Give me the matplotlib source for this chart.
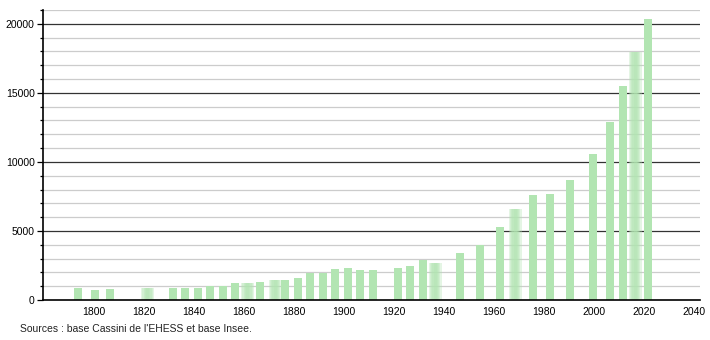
import numpy as np
import matplotlib
matplotlib.use("Agg")
import matplotlib.pyplot as plt
from matplotlib.ticker import MultipleLocator

# census years and population
years = [1793, 1800, 1806, 1821, 1831, 1836, 1841, 1846, 1851, 1856, 1861,
         1866, 1872, 1876, 1881, 1886, 1891, 1896, 1901, 1906, 1911, 1921,
         1926, 1931, 1936, 1946, 1954, 1962, 1968, 1975, 1982, 1990, 1999,
         2006, 2011, 2016, 2021]
population = [890, 720, 820, 870, 890, 890, 890, 1010, 1010, 1230, 1230,
              1300, 1450, 1450, 1590, 1960, 1960, 2250, 2320, 2170, 2170, 2320,
              2460, 2920, 2680, 3400, 3960, 5290, 6590, 7610, 7680, 8700, 10580,
              12920, 15510, 17990, 20360]
# bars that look smeared in the original rendering
blurred = [1821, 1861, 1872, 1936, 1968, 2016]

source_text = "Sources : base Cassini de l'EHESS et base Insee."

plt.rcParams["font.family"] = ["Liberation Sans", "DejaVu Sans"]
bar_color = "#b2e5b2"

fig = plt.figure(figsize=(7.1, 3.4), dpi=100)
ax = fig.add_axes([43 / 710, 40 / 340, 657 / 710, 290 / 340])

# grid: light every 1000, dark every 5000
for v in range(1000, 21001, 1000):
    if v % 5000 == 0:
        ax.axhline(v, color="#333333", lw=0.9, zorder=1)
    else:
        ax.axhline(v, color="#cccccc", lw=0.9, zorder=1)

yrs = np.array(years, dtype=float) + 0.4
pop = np.array(population, dtype=float)
sharp = np.array([y not in blurred for y in years])

ax.bar(yrs[sharp], pop[sharp], width=3.2, color=bar_color, zorder=2, lw=0)
for k in range(5):
    ax.bar(yrs[~sharp], pop[~sharp], width=1.2 + k * 1.0, color=bar_color,
           alpha=0.35, zorder=2, lw=0)

ax.set_xlim(1779.6, 2042.4)
ax.set_ylim(0, 21000)
ax.set_xticks(range(1800, 2041, 20))
ax.yaxis.set_major_locator(MultipleLocator(5000))
ax.yaxis.set_minor_locator(MultipleLocator(1000))
ax.tick_params(axis="x", length=0, labelsize=7.5, pad=5)
ax.tick_params(axis="y", which="major", length=4, width=0.9, labelsize=7.5, pad=2)
ax.tick_params(axis="y", which="minor", length=2, width=0.9)

for s in ["top", "right"]:
    ax.spines[s].set_visible(False)
ax.spines["left"].set_linewidth(1.2)
ax.spines["bottom"].set_linewidth(1.2)

fig.text(20 / 710, 1 - 329 / 340, source_text, fontsize=7.5, va="center",
         ha="left", color="#222222")

fig.savefig("out.png", dpi=100)
